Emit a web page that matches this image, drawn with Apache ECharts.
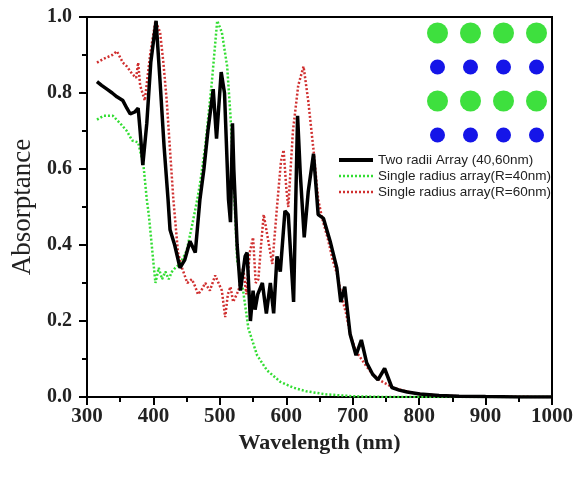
<!DOCTYPE html>
<html>
<head>
<meta charset="utf-8">
<script src="https://cdn.jsdelivr.net/npm/echarts@6/dist/echarts.min.js"></script>
<style>html,body{margin:0;padding:0;background:#fff}#c{width:577px;height:479px}</style>
</head>
<body>
<div id="c"></div>
<script>
// Two radii array (40,60nm)
var twoWl = [315,322,330,338,345,354,360,365,372,377,380,384,390,396,404,410,416,422,425,432,440,447,455,463,470,476,482,490,495,502,507,513,516,519,521,526,531,538,541,546,550,553,557,564,570,576,581,586,591,598,603,611,617,621,627,633,641,648,656,666,676,682,688,696,705,713,721,730,738,748,759,770,782,801,830,860,900,950,1000];
var twoVal = [0.83,0.82,0.81,0.80,0.79,0.78,0.76,0.745,0.75,0.76,0.70,0.61,0.72,0.88,0.99,0.83,0.66,0.52,0.44,0.40,0.34,0.36,0.41,0.38,0.52,0.60,0.70,0.81,0.68,0.855,0.80,0.52,0.46,0.72,0.60,0.40,0.28,0.37,0.38,0.20,0.28,0.23,0.27,0.30,0.22,0.30,0.22,0.37,0.33,0.49,0.48,0.25,0.74,0.59,0.42,0.54,0.64,0.48,0.47,0.41,0.34,0.25,0.29,0.166,0.11,0.15,0.09,0.06,0.045,0.075,0.025,0.018,0.013,0.008,0.004,0.002,0.001,0,0];
// Single radius array (R=40nm)
var r40Wl = [315,325,339,350,360,368,377,385,390,393,398,403,408,413,418,423,428,433,440,450,458,466,470,478,488,496,503,511,516,520,523,526,535,543,556,571,591,610,630,660,700,750,1000];
var r40Val = [0.73,0.74,0.74,0.72,0.70,0.675,0.67,0.61,0.52,0.48,0.39,0.30,0.34,0.31,0.33,0.31,0.33,0.34,0.35,0.385,0.45,0.52,0.56,0.66,0.83,0.99,0.96,0.87,0.74,0.60,0.48,0.36,0.28,0.18,0.11,0.07,0.04,0.025,0.015,0.007,0.002,0,0];
// Single radius array (R=60nm)
var r60Wl = [315,325,338,345,354,360,368,374,377,380,387,395,403,410,415,420,425,430,437,443,451,458,463,467,472,478,485,493,498,503,508,512,516,520,523,528,532,535,540,545,550,554,558,562,566,572,579,586,592,596,600,603,610,618,626,633,641,648,654,662,670,677,684,690,697,705,713,721,730,740,750,760,780,800,830,860,900,1000];
var r60Val = [0.88,0.89,0.90,0.91,0.88,0.87,0.85,0.84,0.88,0.82,0.78,0.90,0.99,0.96,0.88,0.78,0.65,0.52,0.38,0.34,0.30,0.31,0.29,0.27,0.28,0.30,0.28,0.32,0.30,0.28,0.21,0.27,0.29,0.25,0.245,0.28,0.31,0.34,0.27,0.38,0.42,0.30,0.31,0.40,0.48,0.42,0.35,0.50,0.62,0.65,0.55,0.50,0.70,0.82,0.87,0.78,0.65,0.52,0.47,0.42,0.36,0.32,0.26,0.22,0.16,0.12,0.10,0.08,0.06,0.045,0.035,0.025,0.015,0.008,0.004,0.002,0.001,0];
var xTicks = [300,400,500,600,700,800,900,1000];
var yTicks = [0.0,0.2,0.4,0.6,0.8,1.0];
// inset lattice
var latticeCols = [1,2,3,4];
var bigRows = [1,3];
var smallRows = [2,4];
var names = ['Two radii Array (40,60nm)', 'Single radius array(R=40nm)', 'Single radius array(R=60nm)'];

function pairs(xs, ys){ return xs.map(function(x,i){ return [x, ys[i]]; }); }
function lattice(rows){ var o=[]; rows.forEach(function(r){ latticeCols.forEach(function(c){ o.push([c,r]); }); }); return o; }

var serif = "'Liberation Serif','DejaVu Serif',serif";
var chart = echarts.init(document.getElementById('c'), null, {renderer:'canvas'});
chart.setOption({
  animation: false,
  backgroundColor: '#fff',
  grid: [
    {left: 87, right: 25, top: 17, bottom: 82, show: true, borderColor: '#000', borderWidth: 2, backgroundColor: 'transparent'},
    {left: 421, width: 132, top: 16, height: 136}
  ],
  xAxis: [
    {gridIndex: 0, type: 'value', min: xTicks[0], max: xTicks[xTicks.length-1], interval: 100,
     name: 'Wavelength (nm)', nameLocation: 'middle', nameGap: 31,
     nameTextStyle: {fontFamily: serif, fontWeight: 'bold', fontSize: 22, color: '#222', verticalAlign: 'top'},
     axisLine: {lineStyle: {color: '#000', width: 2}},
     axisTick: {length: 8, lineStyle: {color: '#000', width: 2}},
     minorTick: {show: true, splitNumber: 2, length: 5, lineStyle: {color: '#000', width: 2}},
     splitLine: {show: false},
     axisLabel: {fontFamily: serif, fontWeight: 'bold', fontSize: 21, color: '#222', margin: 9,
       formatter: function(v){ return String(v); }}},
    {gridIndex: 1, type: 'value', min: 0.5, max: 4.5, show: false}
  ],
  yAxis: [
    {gridIndex: 0, type: 'value', min: 0, max: 1, interval: 0.2,
     name: 'Absorptance', nameLocation: 'middle', nameGap: 50, nameRotate: 90,
     nameTextStyle: {fontFamily: serif, fontSize: 27, color: '#222'},
     axisLine: {lineStyle: {color: '#000', width: 2}},
     axisTick: {length: 8, lineStyle: {color: '#000', width: 2}},
     minorTick: {show: true, splitNumber: 2, length: 5, lineStyle: {color: '#000', width: 2}},
     splitLine: {show: false},
     axisLabel: {fontFamily: serif, fontWeight: 'bold', fontSize: 20, color: '#222', margin: 15,
       formatter: function(v){ return v.toFixed(1); }}},
    {gridIndex: 1, type: 'value', min: 0.5, max: 4.5, inverse: true, show: false}
  ],
  legend: {
    orient: 'vertical', left: 332, top: 148, itemGap: 2, itemWidth: 34, itemHeight: 13,
    itemStyle: {opacity: 0},
    textStyle: {fontFamily: "'Liberation Sans',Arial,sans-serif", fontSize: 13.5, color: '#222'},
    data: [
      {name: names[0], lineStyle: {width: 4, color: '#000'}},
      {name: names[1], lineStyle: {width: 2.5, color: '#33dd33', type: [2, 2]}},
      {name: names[2], lineStyle: {width: 2.5, color: '#d03030', type: [2, 2]}}
    ]
  },
  series: [
    {name: names[1], type: 'line', xAxisIndex: 0, yAxisIndex: 0,
     data: pairs(r40Wl, r40Val), symbol: 'none', z: 3,
     lineStyle: {color: '#33dd33', width: 2.5, type: [2, 2]}, itemStyle: {color: '#33dd33'}},
    {name: names[2], type: 'line', xAxisIndex: 0, yAxisIndex: 0,
     data: pairs(r60Wl, r60Val), symbol: 'none', z: 3,
     lineStyle: {color: '#d03030', width: 2.5, type: [2, 2]}, itemStyle: {color: '#d03030'}},
    {name: names[0], type: 'line', xAxisIndex: 0, yAxisIndex: 0,
     data: pairs(twoWl, twoVal), symbol: 'none', z: 4,
     lineStyle: {color: '#000', width: 3.5}, itemStyle: {color: '#000'}},
    {type: 'scatter', xAxisIndex: 1, yAxisIndex: 1, data: lattice(bigRows), symbolSize: 21,
     itemStyle: {color: '#3ee03e', opacity: 1}, silent: true},
    {type: 'scatter', xAxisIndex: 1, yAxisIndex: 1, data: lattice(smallRows), symbolSize: 15,
     itemStyle: {color: '#1515e8', opacity: 1}, silent: true}
  ]
});
</script>
</body>
</html>
